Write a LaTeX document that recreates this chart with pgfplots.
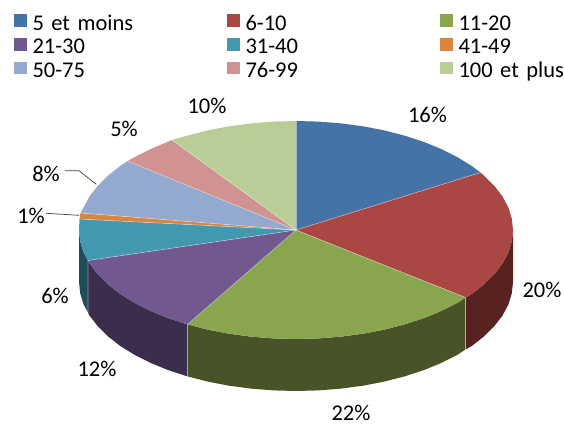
\documentclass[border=0pt]{standalone}
\usepackage{pgfplots}
\pgfplotsset{compat=1.18}
\usepackage{fontspec}
\setmainfont{Carlito}
\definecolor{cA}{HTML}{4572A7}
\definecolor{cB}{HTML}{AA4643}
\definecolor{cC}{HTML}{89A54E}
\definecolor{cD}{HTML}{71588F}
\definecolor{cE}{HTML}{4198AF}
\definecolor{cF}{HTML}{DB843D}
\definecolor{cG}{HTML}{93A9CF}
\definecolor{cH}{HTML}{D19392}
\definecolor{cI}{HTML}{B9CD96}
\definecolor{sB}{HTML}{572220}
\definecolor{sC}{HTML}{485328}
\definecolor{sD}{HTML}{3B2D4C}
\definecolor{sE}{HTML}{1F4D5A}
\tikzset{lab/.style={font=\fontsize{22.5}{26}\selectfont, inner sep=0pt, outer sep=0pt}}
\begin{document}
\fontsize{22.5}{26}\selectfont
\begin{tikzpicture}
\path (0,0) rectangle (564pt,423pt);
\begin{axis}[
  at={(0,0)}, anchor=south west,
  scale only axis, width=564pt, height=423pt,
  xmin=0, xmax=564, ymin=0, ymax=423, y dir=reverse,
  hide axis, clip=false,
  legend columns=3,
  legend cell align=left,
  legend image code/.code={\fill[#1] (0pt,-1.95pt) rectangle (12.5pt,10.55pt);},
  legend style={
    at={(axis cs:14,13)}, anchor=north west, draw=none, fill=none,
    inner sep=0pt, outer sep=0pt,
    font=\fontsize{22.5}{26}\selectfont,
    nodes={inner sep=0pt, outer sep=0pt, text height=17.2pt, text depth=6.5pt, text width=90pt, align=left},
    /tikz/every odd column/.append style={column sep=6pt},
    /tikz/every even column/.append style={column sep=104.5pt},
  },
]
% side walls
\addplot[fill=sB, draw=none, forget plot] coordinates {(513,230)(511.8,241.4)(508.3,252.7)(502.4,263.7)(494.2,274.3)(483.9,284.5)(471.6,294.1)(465.5,297.5)(465.5,349.5)(471.6,346.1)(483.9,336.5)(494.2,326.3)(502.4,315.7)(508.3,304.7)(511.8,293.4)(513,282)} -- cycle;
\addplot[fill=sC, draw=none, forget plot] coordinates {(465.5,297.5)(457.3,302.9)(441.2,311)(423.6,318.2)(404.5,324.4)(384.3,329.6)(363.1,333.7)(341.1,336.6)(318.7,338.4)(296,339)(273.3,338.4)(250.9,336.6)(228.9,333.7)(207.7,329.6)(187.5,324.4)(187.5,376.4)(207.7,381.6)(228.9,385.7)(250.9,388.6)(273.3,390.4)(296,391)(318.7,390.4)(341.1,388.6)(363.1,385.7)(384.3,381.6)(404.5,376.4)(423.6,370.2)(441.2,363)(457.3,354.9)(465.5,349.5)} -- cycle;
\addplot[fill=sD, draw=none, forget plot] coordinates {(187.5,324.4)(168.4,318.2)(150.8,311)(134.7,302.9)(120.4,294.1)(108.1,284.5)(97.8,274.3)(89.6,263.7)(88,260.5)(88,312.5)(89.6,315.7)(97.8,326.3)(108.1,336.5)(120.4,346.1)(134.7,354.9)(150.8,363)(168.4,370.2)(187.5,376.4)} -- cycle;
\addplot[fill=sE, draw=none, forget plot] coordinates {(88,260.5)(83.7,252.7)(80.2,241.4)(79,230)(79,282)(80.2,293.4)(83.7,304.7)(88,312.5)} -- cycle;
% top slices
\addplot[fill=cA, draw=none] coordinates {(296,230)(296,121)(318.7,121.6)(341.1,123.4)(363.1,126.3)(384.3,130.4)(404.5,135.6)(423.6,141.8)(441.2,149)(457.3,157.1)(471.6,165.9)(480.5,172.5)} -- cycle;
\addlegendentry{\mbox{5 et moins}}
\addplot[fill=cB, draw=none] coordinates {(296,230)(480.5,172.5)(483.9,175.5)(494.2,185.7)(502.4,196.3)(508.3,207.3)(511.8,218.6)(513,230)(511.8,241.4)(508.3,252.7)(502.4,263.7)(494.2,274.3)(483.9,284.5)(471.6,294.1)(465.5,297.5)} -- cycle;
\addlegendentry{6-10}
\addplot[fill=cC, draw=none] coordinates {(296,230)(465.5,297.5)(457.3,302.9)(441.2,311)(423.6,318.2)(404.5,324.4)(384.3,329.6)(363.1,333.7)(341.1,336.6)(318.7,338.4)(296,339)(273.3,338.4)(250.9,336.6)(228.9,333.7)(207.7,329.6)(187.5,324.4)} -- cycle;
\addlegendentry{11-20}
\addplot[fill=cD, draw=none] coordinates {(296,230)(187.5,324.4)(168.4,318.2)(150.8,311)(134.7,302.9)(120.4,294.1)(108.1,284.5)(97.8,274.3)(89.6,263.7)(88,260.5)} -- cycle;
\addlegendentry{21-30}
\addplot[fill=cE, draw=none] coordinates {(296,230)(88,260.5)(83.7,252.7)(80.2,241.4)(79,230)(79.5,219)} -- cycle;
\addlegendentry{31-40}
\addplot[fill=cF, draw=none] coordinates {(296,230)(79.5,219)(80.5,213)} -- cycle;
\addlegendentry{41-49}
\addplot[fill=cG, draw=none] coordinates {(296,230)(80.5,213)(83.7,207.3)(89.6,196.3)(97.8,185.7)(108.1,175.5)(120.4,165.9)(127.5,161)} -- cycle;
\addlegendentry{50-75}
\addplot[fill=cH, draw=none] coordinates {(296,230)(127.5,161)(134.7,157.1)(150.8,149)(172,140)} -- cycle;
\addlegendentry{76-99}
\addplot[fill=cI, draw=none] coordinates {(296,230)(172,140)(187.5,135.6)(207.7,130.4)(228.9,126.3)(250.9,123.4)(273.3,121.6)(296,121)} -- cycle;
\addlegendentry{\mbox{100 et plus}}
% separators
\addplot[white, opacity=.45, line width=.6pt, forget plot] coordinates {(296,230)(296,121)};
\addplot[white, opacity=.45, line width=.6pt, forget plot] coordinates {(296,230)(480.5,172.5)};
\addplot[white, opacity=.45, line width=.6pt, forget plot] coordinates {(296,230)(465.5,297.5)(465.5,349.5)};
\addplot[white, opacity=.45, line width=.6pt, forget plot] coordinates {(296,230)(187.5,324.4)(187.5,376.4)};
\addplot[white, opacity=.45, line width=.6pt, forget plot] coordinates {(296,230)(88,260.5)(88,312.5)};
\addplot[white, opacity=.45, line width=.6pt, forget plot] coordinates {(296,230)(79.5,219)};
\addplot[white, opacity=.45, line width=.6pt, forget plot] coordinates {(296,230)(80.5,213)};
\addplot[white, opacity=.45, line width=.6pt, forget plot] coordinates {(296,230)(127.5,161)};
\addplot[white, opacity=.45, line width=.6pt, forget plot] coordinates {(296,230)(172,140)};
% leader lines
\addplot[black!75, line width=.7pt, forget plot] coordinates {(65,170.7)(79,170.7)(96.3,184.3)};
\addplot[black!75, line width=.7pt, forget plot] coordinates {(46,213.3)(79,215.3)};
% labels
\node[lab] at (axis cs:427.5,114.5) {16\%};
\node[lab] at (axis cs:542,290) {20\%};
\node[lab] at (axis cs:351,412.5) {22\%};
\node[lab] at (axis cs:97,369) {12\%};
\node[lab] at (axis cs:55,296) {6\%};
\node[lab] at (axis cs:31,216) {1\%};
\node[lab] at (axis cs:46,174) {8\%};
\node[lab] at (axis cs:124,129) {5\%};
\node[lab] at (axis cs:207,106) {10\%};
\end{axis}
\end{tikzpicture}
\end{document}
